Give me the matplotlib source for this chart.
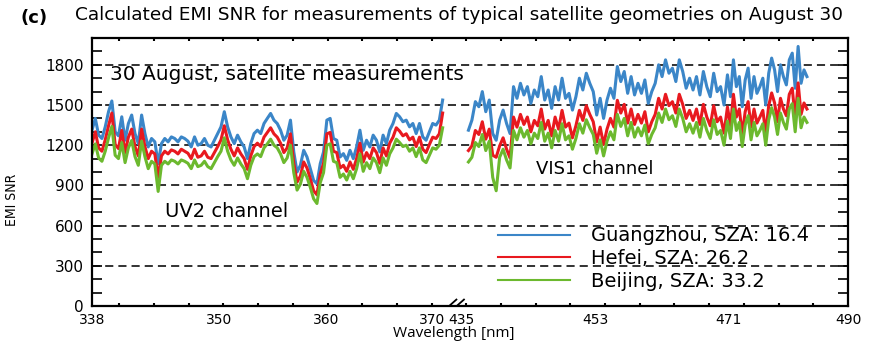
import numpy as np
import matplotlib
matplotlib.use('Agg')
import matplotlib.pyplot as plt

# broken wavelength axis: wavelength -> position along the axis
axis_wl = [338, 370, 372.5, 435, 453, 471, 490]
axis_pos = [92, 432, 458.6, 461, 595, 728, 848]

tick_wl = [338, 350, 360, 370, 435, 453, 471, 490]

# UV2 channel (338 - 371 nm)
guangzhou_uv = [
    1312, 1400, 1275, 1250, 1337, 1450, 1530, 1300, 1270, 1412,
    1237, 1362, 1425, 1287, 1212, 1425, 1287, 1187, 1250, 1225,
    1062, 1212, 1250, 1225, 1262, 1250, 1225, 1262, 1250, 1230,
    1187, 1262, 1200, 1212, 1250, 1200, 1187, 1237, 1287, 1337,
    1450, 1337, 1262, 1212, 1275, 1225, 1187, 1100, 1212, 1287,
    1312, 1287, 1362, 1400, 1437, 1387, 1362, 1312, 1237, 1275,
    1387, 1150, 1000, 1050, 1162, 1112, 1025, 937, 912, 1062,
    1150, 1387, 1400, 1250, 1237, 1112, 1137, 1087, 1162, 1100,
    1187, 1312, 1162, 1237, 1187, 1275, 1237, 1150, 1275, 1212,
    1312, 1362, 1437, 1412, 1375, 1387, 1337, 1362, 1287, 1362,
    1262, 1237, 1300, 1362, 1350, 1387, 1537]
hefei_uv = [
    1215, 1300, 1180, 1155, 1240, 1345, 1440, 1205, 1175, 1310,
    1145, 1260, 1320, 1190, 1120, 1320, 1190, 1100, 1155, 1135,
    960, 1120, 1155, 1135, 1165, 1155, 1135, 1170, 1155, 1140,
    1100, 1170, 1110, 1120, 1155, 1110, 1100, 1145, 1190, 1240,
    1345, 1240, 1170, 1120, 1180, 1135, 1100, 1020, 1120, 1190,
    1215, 1190, 1260, 1295, 1330, 1285, 1260, 1215, 1145, 1180,
    1285, 1065, 925, 970, 1075, 1030, 950, 860, 830, 985,
    1065, 1285, 1295, 1155, 1145, 1030, 1050, 1005, 1075, 1020,
    1100, 1215, 1075, 1145, 1100, 1180, 1145, 1065, 1180, 1120,
    1215, 1260, 1330, 1305, 1270, 1285, 1240, 1260, 1190, 1260,
    1170, 1145, 1205, 1260, 1250, 1285, 1440]
beijing_uv = [
    1135, 1210, 1105, 1080, 1155, 1255, 1340, 1125, 1100, 1220,
    1070, 1180, 1235, 1115, 1050, 1230, 1115, 1025, 1080, 1060,
    855, 1050, 1080, 1060, 1090, 1080, 1060, 1090, 1080, 1065,
    1025, 1090, 1040, 1050, 1080, 1040, 1025, 1070, 1115, 1155,
    1255, 1155, 1090, 1050, 1105, 1060, 1025, 950, 1050, 1115,
    1135, 1115, 1180, 1210, 1245, 1200, 1180, 1135, 1070, 1105,
    1200, 995, 865, 910, 1005, 960, 885, 800, 765, 920,
    995, 1200, 1210, 1080, 1070, 960, 985, 940, 1005, 950,
    1025, 1135, 1005, 1070, 1025, 1105, 1070, 995, 1105, 1050,
    1135, 1180, 1245, 1220, 1190, 1200, 1155, 1180, 1115, 1180,
    1090, 1070, 1125, 1180, 1170, 1200, 1330]

# VIS1 channel (436 - 483.5 nm)
guangzhou_vis = [
    1312, 1387, 1525, 1487, 1600, 1450, 1537, 1287, 1237, 1387,
    1462, 1362, 1287, 1637, 1550, 1662, 1575, 1637, 1512, 1612,
    1562, 1712, 1537, 1612, 1475, 1637, 1537, 1700, 1550, 1587,
    1462, 1562, 1700, 1612, 1737, 1662, 1600, 1425, 1550, 1400,
    1537, 1625, 1550, 1787, 1675, 1750, 1587, 1712, 1575, 1662,
    1587, 1687, 1512, 1600, 1662, 1800, 1712, 1837, 1737, 1775,
    1675, 1837, 1750, 1625, 1700, 1612, 1712, 1575, 1750, 1637,
    1562, 1737, 1600, 1637, 1500, 1725, 1562, 1837, 1637, 1712,
    1487, 1687, 1775, 1550, 1712, 1587, 1637, 1700, 1500, 1737,
    1850, 1762, 1600, 1800, 1712, 1650, 1837, 1887, 1625, 1937,
    1662, 1762, 1712]
hefei_vis = [
    1160, 1195, 1310, 1280, 1375, 1245, 1320, 1125, 1110, 1195,
    1255, 1170, 1105, 1410, 1335, 1430, 1355, 1410, 1300, 1385,
    1345, 1470, 1320, 1385, 1270, 1410, 1320, 1460, 1335, 1365,
    1255, 1345, 1460, 1385, 1495, 1430, 1375, 1225, 1335, 1205,
    1320, 1400, 1335, 1535, 1440, 1505, 1365, 1470, 1355, 1430,
    1365, 1450, 1300, 1375, 1430, 1550, 1470, 1580, 1495, 1525,
    1440, 1580, 1505, 1400, 1460, 1385, 1470, 1355, 1505, 1410,
    1345, 1495, 1375, 1410, 1290, 1485, 1345, 1580, 1410, 1470,
    1280, 1450, 1525, 1335, 1470, 1365, 1410, 1460, 1290, 1495,
    1590, 1515, 1375, 1550, 1470, 1420, 1580, 1625, 1400, 1665,
    1430, 1515, 1470]
beijing_vis = [
    1075, 1110, 1220, 1190, 1280, 1160, 1230, 960, 860, 1110,
    1170, 1090, 1030, 1310, 1240, 1330, 1260, 1310, 1210, 1290,
    1250, 1370, 1230, 1290, 1180, 1310, 1230, 1360, 1240, 1270,
    1170, 1250, 1360, 1290, 1390, 1330, 1280, 1140, 1240, 1120,
    1230, 1300, 1240, 1430, 1340, 1400, 1270, 1370, 1260, 1330,
    1270, 1350, 1210, 1280, 1330, 1440, 1370, 1470, 1390, 1420,
    1340, 1470, 1400, 1300, 1360, 1290, 1370, 1260, 1400, 1310,
    1250, 1390, 1280, 1310, 1200, 1380, 1250, 1470, 1310, 1370,
    1190, 1350, 1420, 1240, 1370, 1270, 1310, 1360, 1200, 1390,
    1480, 1410, 1280, 1440, 1370, 1320, 1470, 1510, 1300, 1550,
    1330, 1410, 1370]

wl_uv = np.linspace(338, 371, len(guangzhou_uv))
wl_vis = np.linspace(436, 483.5, len(guangzhou_vis))

series = [
    ('Guangzhou, SZA: 16.4', guangzhou_uv, guangzhou_vis, '#3b86c8'),
    ('Hefei, SZA: 26.2', hefei_uv, hefei_vis, '#e8191f'),
    ('Beijing, SZA: 33.2', beijing_uv, beijing_vis, '#6cb92e'),
]


def to_axis(x):
    return np.interp(x, axis_wl, axis_pos)


def from_axis(p):
    return np.interp(p, axis_pos, axis_wl)


fig = plt.figure(figsize=(8.73, 3.41), dpi=100)
ax = fig.add_axes([92 / 873, 1 - 306 / 341, 756 / 873, 268 / 341])
ax.set_xscale('function', functions=(to_axis, from_axis))

for name, uv, vis, color in series:
    ax.plot(wl_uv, uv, color=color, lw=2.2, label=name)
    ax.plot(wl_vis, vis, color=color, lw=2.2)

ax.set_xlim(338, 490)
ax.set_ylim(0, 2000)

# y axis
ax.set_yticks(range(0, 1801, 300))
ax.set_yticks(range(0, 2001, 100), minor=True)
ax.tick_params(axis='y', which='both', direction='in', length=7, width=1.2,
               left=True, right=True, labelsize=11, pad=6)
ax.grid(axis='y', which='major', color='#222222', lw=1.3,
        linestyle=(0, (4.5, 2.8)))
ax.set_axisbelow(True)

# x axis: labels at wavelengths, small evenly spaced tick marks
ax.set_xticks(tick_wl)
ax.set_xticklabels([str(t) for t in tick_wl])
mark_wl = from_axis(119.3 + 34.7 * np.arange(21))
ax.set_xticks(mark_wl, minor=True)
ax.tick_params(axis='x', which='major', length=0, labelsize=10, pad=5)
ax.tick_params(axis='x', which='minor', direction='in', length=2, width=1.5,
               top=True, bottom=True)

for s in ax.spines.values():
    s.set_linewidth(1.6)

# break marks
for bx in (0.478, 0.488):
    ax.plot([bx - 0.004, bx + 0.004], [0.004, 0.024], transform=ax.transAxes,
            color='black', lw=1.3, clip_on=False)

ax.set_ylabel('EMI SNR', fontstretch='condensed', fontsize=10)
ax.yaxis.set_label_coords(-0.097, 0.396)
ax.set_xlabel('Wavelength [nm]', family='Open Sans', fontsize=11)
ax.xaxis.set_label_coords(0.479, -0.074)

ax.text(339.7, 1725, '30 August, satellite measurements', fontsize=14.5,
        va='center', ha='left')
ax.text(344.9, 702, 'UV2 channel', fontsize=14, va='center', ha='left')
ax.text(445.1, 1023, 'VIS1 channel', fontsize=13, va='center', ha='left')

leg = ax.legend(loc='upper left', bbox_to_anchor=(0.537, 0.297), frameon=False,
                prop={'size': 14}, handlelength=3.7, handletextpad=1.1,
                labelspacing=0.2, borderaxespad=0, borderpad=0)
for line in leg.get_lines():
    line.set_linewidth(1.5)

fig.text(20 / 873, 1 - 18 / 341, '(c)', fontsize=13, fontweight='bold',
         va='center', ha='left')
fig.text(75 / 873, 1 - 15 / 341,
         'Calculated EMI SNR for measurements of typical satellite '
         'geometries on August 30', fontsize=13.3, va='center', ha='left')

fig.savefig('out.png', dpi=100)
